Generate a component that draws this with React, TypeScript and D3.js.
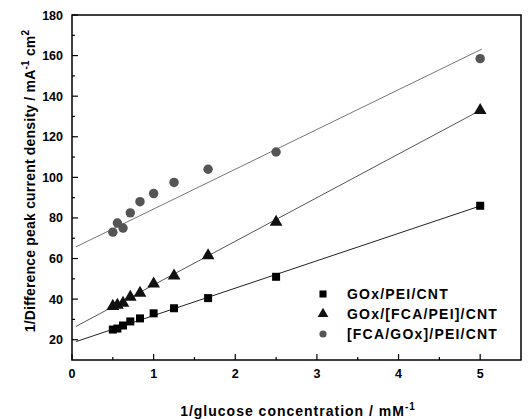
import React from "react";
import * as d3 from "d3";

const xValues = [0.5, 0.556, 0.625, 0.714, 0.833, 1.0, 1.25, 1.667, 2.5, 5.0];
const seriesNames = ["GOx/PEI/CNT", "GOx/[FCA/PEI]/CNT", "[FCA/GOx]/PEI/CNT"];
const squareValues = [25, 25.5, 27, 29, 30.5, 33, 35.5, 40.5, 51, 86];
const triangleValues = [37, 37.5, 38.5, 41.5, 43.5, 48, 52, 62, 78.5, 133.5];
const circleValues = [73, 77.5, 75, 82.5, 88, 92, 97.5, 104, 112.5, 158.5];
const fitIntercepts = [18.4, 25.5, 64.8];
const fitSlopes = [13.5, 21.5, 19.6];
const fitRange = [0.05, 5.02];
const xTicks = [0, 1, 2, 3, 4, 5];
const yTicks = [20, 40, 60, 80, 100, 120, 140, 160, 180];

export default function App() {
  const W = 528, H = 419;
  const L = 72, T = 15, R = 521, B = 360;
  const x = d3.scaleLinear().domain([0, 5.5]).range([L, R]);
  const y = d3.scaleLinear().domain([10, 180]).range([B, T]);
  const font = "'Liberation Sans', Arial, sans-serif";
  const series = [squareValues, triangleValues, circleValues];
  const colors = ["#000", "#111", "#555"];
  const lineColors = ["#222", "#555", "#777"];
  const sym = [d3.symbolSquare, d3.symbolTriangle, d3.symbolCircle];
  const sizes = [64, 70, 70];
  const xMinor = d3.range(0.5, 5.5, 1);
  const yMinor = d3.range(10, 180, 20).filter(v => v > 10);

  return (
    <svg width={W} height={H} style={{ position: "absolute", left: 0, top: 0 }} fontFamily={font}>
      <rect width={W} height={H} fill="#fff" />
      {series.map((vals, i) => {
        const x0 = fitRange[0], x1 = fitRange[1];
        return (
          <line key={"f" + i} x1={x(x0)} y1={y(fitIntercepts[i] + fitSlopes[i] * x0)}
            x2={x(x1)} y2={y(fitIntercepts[i] + fitSlopes[i] * x1)}
            stroke={lineColors[i]} strokeWidth={1} />
        );
      })}
      {series.map((vals, i) =>
        vals.map((v, j) => (
          <path key={i + "-" + j} d={d3.symbol(sym[i], sizes[i])() as string}
            transform={`translate(${x(xValues[j])},${y(v) + (i === 1 ? 1 : 0)})`} fill={colors[i]} />
        ))
      )}
      <rect x={L} y={T} width={R - L} height={B - T} fill="none" stroke="#000" strokeWidth={1.5} />
      {xTicks.map(t => (
        <g key={"xt" + t}>
          <line x1={x(t)} x2={x(t)} y1={B} y2={B - 6} stroke="#000" strokeWidth={1.2} />
          <text x={x(t)} y={B + 18} textAnchor="middle" fontSize={12.5} fontWeight="bold">{t}</text>
        </g>
      ))}
      {xMinor.map(t => (
        <line key={"xm" + t} x1={x(t)} x2={x(t)} y1={B} y2={B - 3} stroke="#000" strokeWidth={1.2} />
      ))}
      {yTicks.map(t => (
        <g key={"yt" + t}>
          <line x1={L} x2={L + 6} y1={y(t)} y2={y(t)} stroke="#000" strokeWidth={1.2} />
          <text x={L - 9} y={y(t) + 4.5} textAnchor="end" fontSize={12.5} fontWeight="bold">{t}</text>
        </g>
      ))}
      {yMinor.map(t => (
        <line key={"ym" + t} x1={L} x2={L + 3} y1={y(t)} y2={y(t)} stroke="#000" strokeWidth={1.2} />
      ))}
      <text x={298} y={416} textAnchor="middle" fontSize={14} fontWeight="bold" letterSpacing={1}>
        1/glucose concentration / mM<tspan dy={-6} fontSize={10}>-1</tspan>
      </text>
      <text transform={`translate(35,181) rotate(-90)`} textAnchor="middle" fontSize={14} fontWeight="bold" letterSpacing={0.2}>
        1/Difference peak current density / mA<tspan dy={-6} fontSize={10}>-1</tspan><tspan dy={6}> cm</tspan><tspan dy={-6} fontSize={10}>2</tspan>
      </text>
      {seriesNames.map((n, i) => (
        <g key={"lg" + i}>
          <path d={d3.symbol(sym[i], i === 2 ? 40 : 50)() as string} transform={`translate(323,${294 + i * 20})`} fill={colors[i]} />
          <text x={347} y={298.5 + i * 20} fontSize={14} fontWeight="bold" letterSpacing={1.2}>{n}</text>
        </g>
      ))}
    </svg>
  );
}
